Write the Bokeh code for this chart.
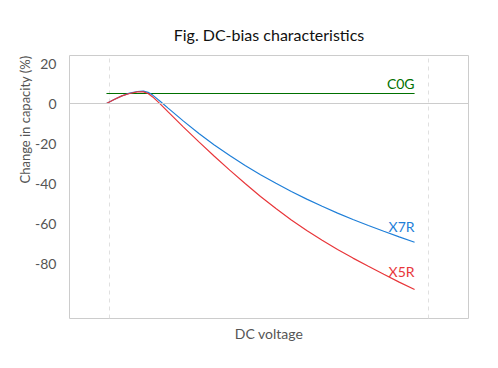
from bokeh.plotting import figure
from bokeh.models import FixedTicker, Span, Range1d, Label, Title
from bokeh.embed import file_html
from bokeh.resources import INLINE

# Data (DC voltage in % of rated, capacitance change in %)
voltage = [0, 2.5, 5, 7.5, 10, 12, 13.5, 15, 17.5, 20, 25, 30, 35, 40, 45, 50,
           55, 60, 65, 70, 75, 80, 85, 90, 95, 100]
x7r = [0, 2.0, 3.8, 5.2, 6.0, 6.2, 5.6, 4.2, 1.0, -2.3, -8.8, -15.0, -20.7, -26.0, -31.0,
       -35.6, -39.9, -44.0, -47.8, -51.4, -54.8, -58.0, -61.0, -63.9, -66.7, -69.4]
x5r = [0, 2.0, 3.8, 5.0, 5.8, 5.8, 5.0, 3.3, -0.3, -4.2, -11.8, -19.2, -26.4, -33.3, -40.0,
       -46.5, -52.5, -58.2, -63.5, -68.4, -73.0, -77.3, -81.4, -85.4, -89.3, -93.0]
c0g_x = [0, 100]
c0g = [5, 5]
y_ticks = [20, 0, -20, -40, -60, -80]
y_tick_labels = ["20", "0", "-20", "-40", "-60", "-80"]
x_grid = [1.0, 104.5]

FONT = "Lato"
GREY = "#555555"
X0, X1, Y0, Y1 = -12.0, 117.5, -107.5, 24

p = figure(width=490, height=360, output_backend="svg", toolbar_location=None,
           x_range=Range1d(X0, X1), y_range=Range1d(Y0, Y1),
           min_border_left=69, min_border_right=22, min_border_top=55, min_border_bottom=42,
           title="Fig. DC-bias characteristics")

p.title.text_font = FONT
p.title.text_font_size = "16px"
p.title.text_font_style = "normal"
p.title.align = "center"
p.title.text_color = "#111111"
p.title.standoff = 23

p.outline_line_color = "#cccccc"
p.outline_line_width = 1

# axes
p.xaxis.ticker = FixedTicker(ticks=[])
p.xaxis.major_tick_line_color = None
p.xaxis.minor_tick_line_color = None
p.xaxis.axis_line_color = None
p.xaxis.axis_label = "DC voltage"
p.xaxis.axis_label_text_font = FONT
p.xaxis.axis_label_text_font_size = "14px"
p.xaxis.axis_label_text_font_style = "normal"
p.xaxis.axis_label_text_color = GREY
p.xaxis.axis_label_standoff = 6

yax = p.yaxis[0]
yax.ticker = FixedTicker(ticks=y_ticks)
yax.major_label_overrides = dict(zip(y_ticks, y_tick_labels))
yax.major_tick_line_color = None
yax.minor_tick_line_color = None
yax.axis_line_color = None
yax.major_label_text_font = FONT
yax.major_label_text_font_size = "14px"
yax.major_label_text_color = GREY
yax.major_label_standoff = 7

# y-axis title, top-aligned with the plot frame as in the reference
ytitle = Title(text="Change in capacity (%)", align="right", text_font=FONT,
               text_font_size="13px", text_font_style="normal", text_color=GREY,
               standoff=0)
p.add_layout(ytitle, "left")

p.xgrid.ticker = FixedTicker(ticks=x_grid)
p.xgrid.grid_line_color = "#e0e0e0"
p.xgrid.grid_line_dash = "4 4"
p.ygrid.grid_line_color = None

p.add_layout(Span(location=0, dimension="width", line_color="#cccccc", line_width=1))

p.line(c0g_x, c0g, line_color="#007000", line_width=1)
p.line(voltage, x7r, line_color="#1f7fd8", line_width=1.2)
p.line(voltage, x5r, line_color="#e8363a", line_width=1.2)

p.add_layout(Label(x=100, y=10, text="C0G", text_align="right", text_baseline="middle",
                   text_color="#007000", text_font=FONT, text_font_size="14px"))
p.add_layout(Label(x=100, y=-61.5, text="X7R", text_align="right", text_baseline="middle",
                   text_color="#1f7fd8", text_font=FONT, text_font_size="14px"))
p.add_layout(Label(x=100, y=-84, text="X5R", text_align="right", text_baseline="middle",
                   text_color="#e8363a", text_font=FONT, text_font_size="14px"))

p.background_fill_color = "white"
p.border_fill_color = "white"

open("out.html", "w").write(file_html(p, INLINE))
